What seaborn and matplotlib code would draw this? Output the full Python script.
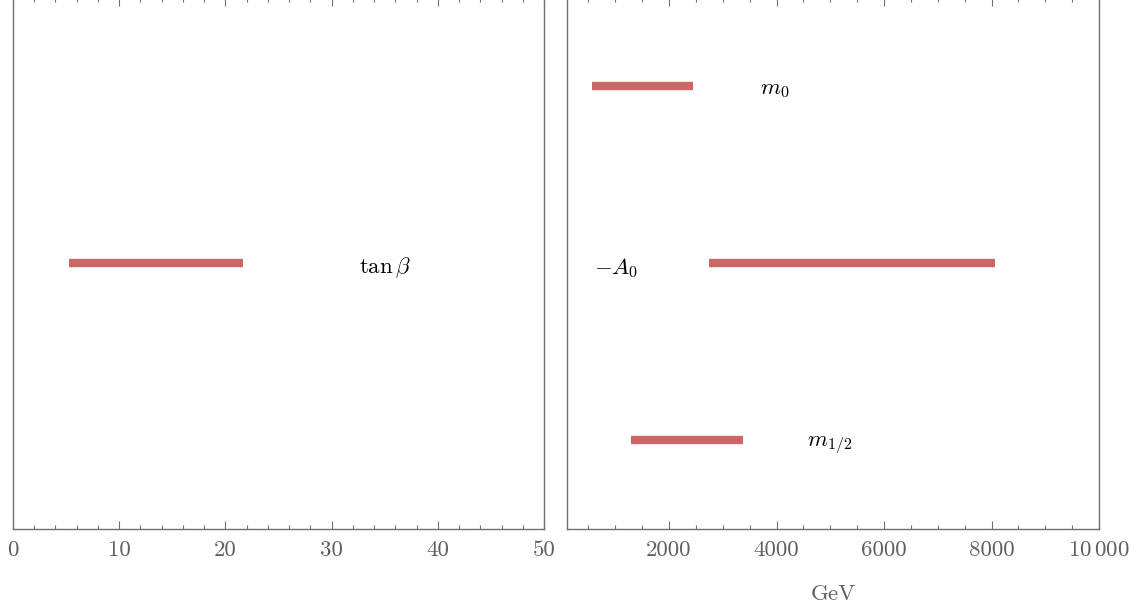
import matplotlib
matplotlib.use("Agg")
import matplotlib.pyplot as plt
import seaborn as sns
import pandas as pd
from matplotlib.ticker import MultipleLocator, FuncFormatter

sns.set_theme(style="white")
plt.rcParams["font.family"] = ["cmr10", "DejaVu Serif"]
plt.rcParams["mathtext.fontset"] = "cm"
plt.rcParams["axes.formatter.use_mathtext"] = True

# Data
left_params = ["tanb"]
left_labels = [r"$\tan\beta$"]
left_low = [5.3]
left_high = [21.7]
left_ypos = [2]
left_label_x = [35]

right_params = ["m0", "A0", "m12"]
right_labels = [r"$m_0$", r"$-A_0$", r"$m_{1/2}$"]
right_low = [570, 2745, 1295]
right_high = [2445, 8065, 3375]
right_ypos = [3, 2, 1]
right_label_x = [3970, 1010, 4980]

bar_color = "#CD6666"
frame_color = "#707070"
text_color = "#606060"


def long_df(params, low, high, ypos):
    rows = []
    for p, a, b, y in zip(params, low, high, ypos):
        rows.append({"param": p, "x": a, "y": y})
        rows.append({"param": p, "x": b, "y": y})
    return pd.DataFrame(rows)


fig = plt.figure(figsize=(11.4, 6.1), dpi=100)
bottom = 1 - 529 / 610
height = 1.004 - bottom
axL = fig.add_axes([13 / 1140, bottom, 531 / 1140, height])
axR = fig.add_axes([567 / 1140, bottom, 532 / 1140, height])

dfL = long_df(left_params, left_low, left_high, left_ypos)
dfR = long_df(right_params, right_low, right_high, right_ypos)

for ax, df in ((axL, dfL), (axR, dfR)):
    sns.lineplot(data=df, x="x", y="y", units="param", estimator=None,
                 color=bar_color, linewidth=6, solid_capstyle="butt",
                 ax=ax, legend=False)

dy = -0.025
for lab, x, y in zip(left_labels, left_label_x, left_ypos):
    axL.text(x, y + dy, lab, ha="center", va="center", fontsize=16.5, color="black")
for lab, x, y in zip(right_labels, right_label_x, right_ypos):
    axR.text(x, y + dy, lab, ha="center", va="center", fontsize=16.5, color="black")

axL.set_xlim(0, 50)
axR.set_xlim(100, 10000)
for ax in (axL, axR):
    ax.set_ylim(0.5, 3.5)
    ax.set_yticks([])
    ax.set_ylabel("")
    ax.set_xlabel("")
    for s in ax.spines.values():
        s.set_visible(True)
        s.set_color(frame_color)
        s.set_linewidth(1.0)
    ax.tick_params(axis="x", which="both", direction="in", top=True, bottom=True,
                   color=frame_color, labelcolor=text_color, labelsize=16.5, pad=8)
    ax.tick_params(axis="x", which="major", length=6, width=0.8)
    ax.tick_params(axis="x", which="minor", length=3, width=0.8)

axL.xaxis.set_major_locator(MultipleLocator(10))
axL.xaxis.set_minor_locator(MultipleLocator(2))
axL.xaxis.set_major_formatter(FuncFormatter(lambda v, p: f"{int(round(v))}"))

axR.set_xticks([2000, 4000, 6000, 8000, 10000])
axR.xaxis.set_minor_locator(MultipleLocator(500))


def fmt_r(v, p):
    v = int(round(v))
    if v >= 10000:
        return r"$10\,000$"
    return f"{v}"


axR.xaxis.set_major_formatter(FuncFormatter(fmt_r))
axR.set_xlabel("GeV", fontsize=16.5, color=text_color, labelpad=18)

fig.savefig("out.png", dpi=100)
